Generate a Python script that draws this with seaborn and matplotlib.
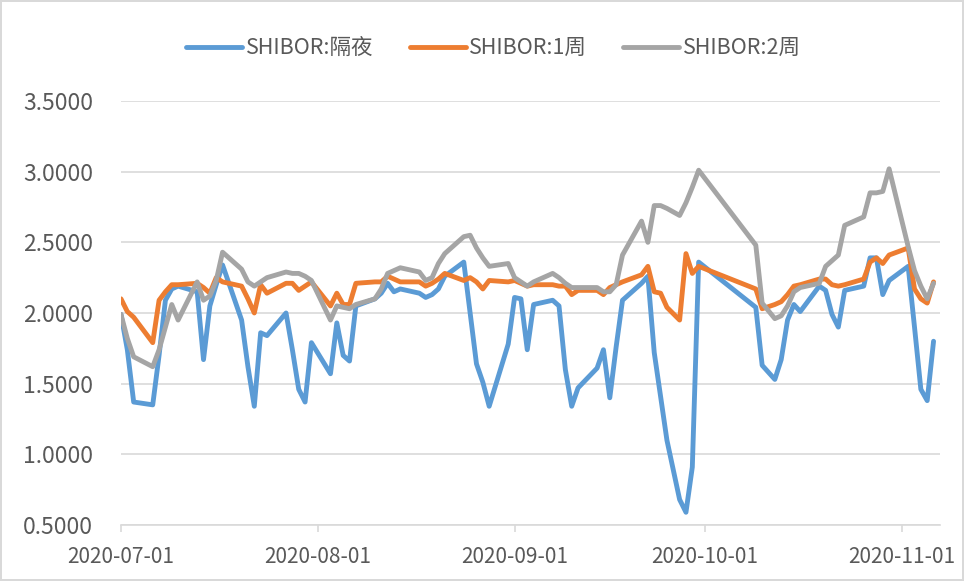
import pandas as pd
import seaborn as sns
import matplotlib.pyplot as plt
import matplotlib.dates as mdates
from matplotlib.ticker import FormatStrFormatter

# SHIBOR fixing days, 2020 (Golden Week gap in October)
jul_days = [1, 2, 3, 6, 7, 8, 9, 10, 13, 14, 15, 16, 17, 20, 21, 22, 23, 24, 27, 28, 29, 30, 31]
aug_days = [3, 4, 5, 6, 7, 10, 11, 12, 13, 14, 17, 18, 19, 20, 21, 24, 25, 26, 27, 28, 31]
sep_days = [1, 2, 3, 4, 7, 8, 9, 10, 11, 14, 15, 16, 17, 18, 21, 22, 23, 24, 25, 27, 28, 29, 30]
oct_days = [9, 10, 12, 13, 14, 15, 16, 19, 20, 21, 22, 23, 26, 27, 28, 29, 30]
nov_days = [2, 3, 4, 5, 6]

overnight = [
    1.99, 1.74, 1.37, 1.35, 1.70, 2.09, 2.17, 2.19, 2.15, 1.67, 2.05, 2.20, 2.34, 1.95, 1.62, 1.34, 1.86, 1.84, 2.00, 1.74, 1.46, 1.37, 1.79,
    1.57, 1.93, 1.70, 1.66, 2.05, 2.10, 2.14, 2.21, 2.15, 2.17, 2.14, 2.11, 2.13, 2.17, 2.26, 2.36, 2.00, 1.64, 1.51, 1.34, 1.78,
    2.11, 2.10, 1.74, 2.06, 2.09, 2.05, 1.60, 1.34, 1.47, 1.61, 1.74, 1.40, 1.76, 2.09, 2.21, 2.26, 1.72, 1.41, 1.10, 0.68, 0.59, 0.91, 2.36,
    2.04, 1.63, 1.53, 1.67, 1.95, 2.06, 2.01, 2.19, 2.16, 1.99, 1.90, 2.16, 2.19, 2.39, 2.39, 2.13, 2.23,
    2.33, 1.90, 1.46, 1.38, 1.80,
]
week_1 = [
    2.10, 2.01, 1.97, 1.79, 2.09, 2.15, 2.20, 2.20, 2.21, 2.18, 2.14, 2.25, 2.22, 2.19, 2.10, 2.00, 2.20, 2.14, 2.21, 2.21, 2.16, 2.19, 2.22,
    2.05, 2.14, 2.06, 2.06, 2.21, 2.22, 2.22, 2.26, 2.24, 2.22, 2.22, 2.19, 2.21, 2.24, 2.28, 2.23, 2.25, 2.22, 2.17, 2.23, 2.22,
    2.23, 2.21, 2.19, 2.20, 2.20, 2.19, 2.19, 2.13, 2.16, 2.16, 2.13, 2.18, 2.20, 2.22, 2.27, 2.33, 2.15, 2.14, 2.04, 1.95, 2.42, 2.28, 2.33,
    2.17, 2.03, 2.06, 2.08, 2.13, 2.19, 2.20, 2.24, 2.24, 2.20, 2.19, 2.20, 2.24, 2.36, 2.39, 2.35, 2.41,
    2.46, 2.17, 2.10, 2.07, 2.22,
]
week_2 = [
    1.99, 1.82, 1.69, 1.62, 1.74, 1.90, 2.06, 1.95, 2.22, 2.09, 2.12, 2.23, 2.43, 2.31, 2.22, 2.19, 2.22, 2.25, 2.29, 2.28, 2.28, 2.26, 2.23,
    1.95, 2.05, 2.04, 2.03, 2.06, 2.10, 2.17, 2.28, 2.30, 2.32, 2.29, 2.23, 2.25, 2.35, 2.42, 2.54, 2.55, 2.46, 2.39, 2.33, 2.35,
    2.25, 2.22, 2.19, 2.22, 2.28, 2.25, 2.21, 2.18, 2.18, 2.18, 2.15, 2.15, 2.20, 2.41, 2.65, 2.50, 2.76, 2.76, 2.74, 2.69, 2.78, 2.89, 3.01,
    2.48, 2.07, 1.96, 1.98, 2.05, 2.15, 2.18, 2.21, 2.33, 2.37, 2.41, 2.62, 2.68, 2.85, 2.85, 2.86, 3.02,
    2.47, 2.30, 2.19, 2.10, 2.21,
]

series_names = ['SHIBOR:隔夜', 'SHIBOR:1周', 'SHIBOR:2周']
colors = ['#5B9BD5', '#ED7D31', '#A5A5A5']
x_ticks = ['2020-07-01', '2020-08-01', '2020-09-01', '2020-10-01', '2020-11-01']
y_ticks = [0.5, 1.0, 1.5, 2.0, 2.5, 3.0, 3.5]

# build the long table for seaborn
dates = ([f'2020-07-{d:02d}' for d in jul_days] + [f'2020-08-{d:02d}' for d in aug_days]
         + [f'2020-09-{d:02d}' for d in sep_days] + [f'2020-10-{d:02d}' for d in oct_days]
         + [f'2020-11-{d:02d}' for d in nov_days])
dates = pd.to_datetime(dates)

frames = []
for name, vals in zip(series_names, [overnight, week_1, week_2]):
    frames.append(pd.DataFrame({'date': dates, 'rate': vals, 'series': name}))
df = pd.concat(frames, ignore_index=True)

sns.set_theme(style='white')
plt.rcParams['font.family'] = ['Noto Sans CJK SC', 'DejaVu Sans']

fig = plt.figure(figsize=(9.64, 5.81), dpi=100)
fig.patch.set_edgecolor('#D9D9D9')
fig.patch.set_linewidth(1.5)
ax = fig.add_axes([0.1255, 0.0964, 0.8495, 0.7298])

sns.lineplot(data=df, x='date', y='rate', hue='series', hue_order=series_names,
             palette=colors, linewidth=3.5, ax=ax, legend=False)

# axes look
ax.set_xlim(pd.Timestamp('2020-07-01'), pd.Timestamp('2020-11-07'))
ax.set_ylim(0.5, 3.5)
ax.set_yticks(y_ticks)
ax.yaxis.set_major_formatter(FormatStrFormatter('%.4f'))
ax.set_xticks(pd.to_datetime(x_ticks))
ax.xaxis.set_major_formatter(mdates.DateFormatter('%Y-%m-%d'))
ax.grid(axis='y', color='#D9D9D9', linewidth=1.2)
ax.set_axisbelow(True)
for s in ['left', 'right', 'top']:
    ax.spines[s].set_visible(False)
ax.spines['bottom'].set_color('#D9D9D9')
ax.spines['bottom'].set_linewidth(1.2)
ax.tick_params(axis='y', length=0, pad=20, labelsize=16.5, labelcolor='#595959')
ax.tick_params(axis='x', length=5, width=1.2, color='#D9D9D9', pad=10,
               labelsize=15, labelcolor='#595959', bottom=True)
ax.set_xlabel('')
ax.set_ylabel('')

handles = [plt.Line2D([], [], color=c, linewidth=3.5, solid_capstyle='round') for c in colors]
fig.legend(handles, series_names, loc='center', bbox_to_anchor=(0.512, 0.917), ncol=3,
           frameon=False, fontsize=15.5, handlelength=2.6, handletextpad=0.15,
           columnspacing=1.7, labelcolor='#595959')

fig.savefig('out.png', dpi=100, edgecolor=fig.get_edgecolor())
